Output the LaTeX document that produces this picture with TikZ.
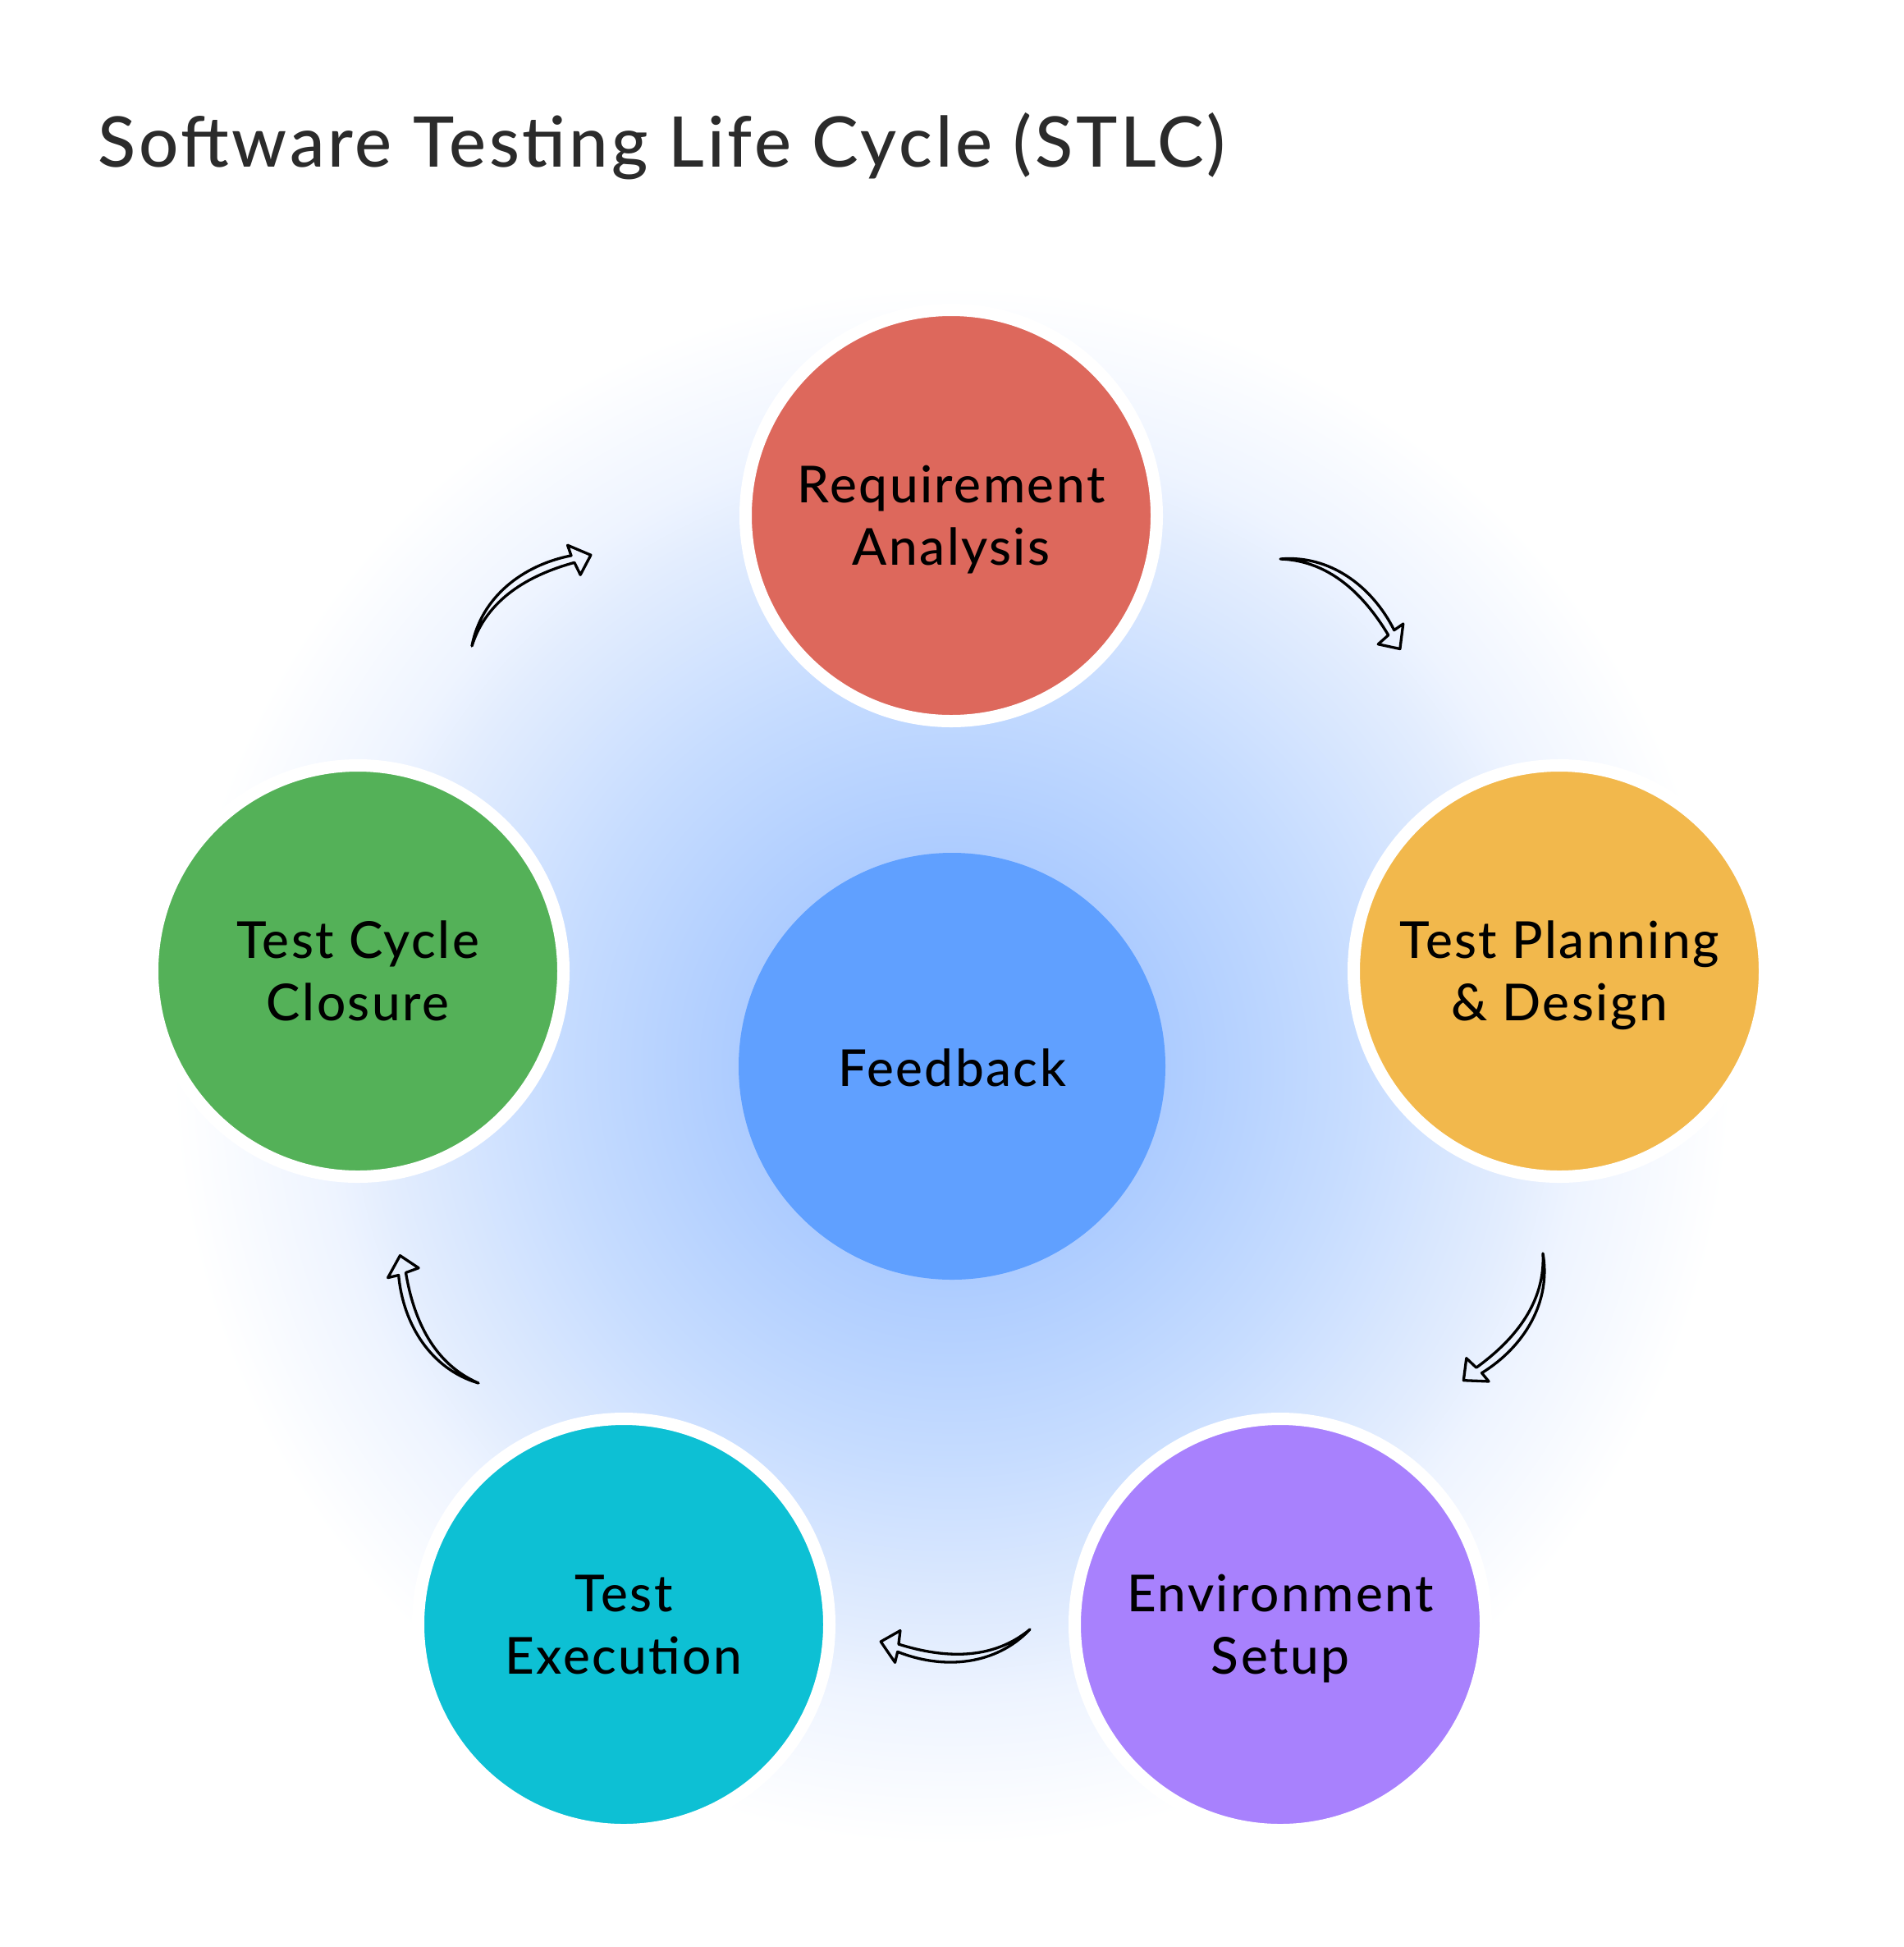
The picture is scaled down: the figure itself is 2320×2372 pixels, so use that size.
\documentclass[tikz,border=0pt]{standalone}
\usepackage{fontspec}
\setmainfont{Lato}
\IfFontExistsTF{Lato Medium}{%
  \newfontfamily\mfont{Lato Medium}[LetterSpace=4]%
  \newfontfamily\tfont{Lato Medium}[LetterSpace=4.5]}{%
  \IfFontExistsTF{Lato Semibold}{%
    \newfontfamily\mfont{Lato Semibold}[LetterSpace=3.5]%
    \newfontfamily\tfont{Lato Semibold}[LetterSpace=4]}{%
    \newfontfamily\mfont{Lato}[FakeBold=1.5, FakeStretch=1.07]%
    \newfontfamily\tfont{Lato}[FakeBold=1.5, FakeStretch=1.08]}}
\definecolor{cred}{HTML}{DD685C}
\definecolor{cyellow}{HTML}{F2B84C}
\definecolor{cpurple}{HTML}{A881FD}
\definecolor{ccyan}{HTML}{0DC0D4}
\definecolor{cgreen}{HTML}{54B158}
\definecolor{cblue}{HTML}{60A0FF}
\definecolor{ctitle}{HTML}{2B2B2B}
\definecolor{gzero}{HTML}{A8C9FF}
\definecolor{gone}{HTML}{ADCCFF}
\definecolor{gtwo}{HTML}{C6DCFF}
\definecolor{gthree}{HTML}{E3EDFE}
\definecolor{gfour}{HTML}{EEF4FF}
\pgfdeclareradialshading{glow}{\pgfpoint{0bp}{0bp}}{color(0bp)=(gzero); color(3.42bp)=(gone); color(6.34bp)=(gtwo); color(9.21bp)=(gthree); color(10.13bp)=(gfour); color(12.5bp)=(white); color(50bp)=(white)}
\tikzset{
  stage/.style={circle, draw=white, line width=15pt, minimum size=501pt, inner sep=0pt},
  stagetext/.style={font=\mfont\fontsize{62}{76}\selectfont, align=center, text=black, inner sep=0pt},
  arrowline/.style={draw=black, line width=3.3pt, line join=round, line cap=round},
  sketcharrow/.pic={
    \draw[arrowline] (0,0) .. controls (44.6,40.1) and (108.6,41) .. (163,14)
      -- (167.2,26.7) -- (182.4,0) -- (157.7,-11.4) -- (161,4.9)
      .. controls (106.6,27) and (48.5,34) .. (0,0);
  }
}
\begin{document}
\begin{tikzpicture}[x=1pt,y=1pt]
\useasboundingbox (0,0) rectangle (2320,-2372);
\fill[white] (0,0) rectangle (2320,-2372);
\begin{scope}
  \clip (0,0) rectangle (2320,-2372);
  \fill[shading=glow] (1160,-1299) circle (1900);
\end{scope}

\node[anchor=base west, inner sep=0pt, text=ctitle, font=\tfont\fontsize{85}{100}\selectfont] (title) at (119,-203) {Software Testing Life Cycle (STLC)};

\node[stage, fill=cred] (req) at (1159,-628) {};
\node[stage, fill=cyellow] (plan) at (1900,-1183) {};
\node[stage, fill=cpurple] (env) at (1560,-1979) {};
\node[stage, fill=ccyan] (exec) at (760,-1979) {};
\node[stage, fill=cgreen] (close) at (436,-1183) {};
\node[circle, fill=cblue, minimum size=520pt, inner sep=0pt] (fb) at (1160,-1299) {};

\node[stagetext] (reqt) at ([yshift=-5.25pt]req.center) {\vphantom{l}Requirement\\Analysis\vphantom{y}};
\node[stagetext] (plant) at ([yshift=-5.25pt]plan.center) {\vphantom{l}Test Planning\\\& Design\vphantom{y}};
\node[stagetext] (envt) at ([yshift=-5.25pt]env.center) {\vphantom{l}Environment\\Setup\vphantom{y}};
\node[stagetext] (exect) at ([yshift=-5.25pt]exec.center) {\vphantom{l}Test\\Execution\vphantom{y}};
\node[stagetext] (closet) at ([yshift=-5.25pt]close.center) {\vphantom{l}Test Cycle\\Closure\vphantom{y}};
\node[stagetext, anchor=base] (fbt) at (1160,-1323) {Feedback};

\pic[rotate=37.4] at (575,-787) {sketcharrow};
\pic[rotate=-36.9] at (1560,-681) {sketcharrow};
\pic[rotate=-122.0] at (1880,-1527) {sketcharrow};
\pic[rotate=-175.3] at (1255,-1985) {sketcharrow};
\pic[rotate=121.6] at (583,-1685) {sketcharrow};
\end{tikzpicture}
\end{document}
